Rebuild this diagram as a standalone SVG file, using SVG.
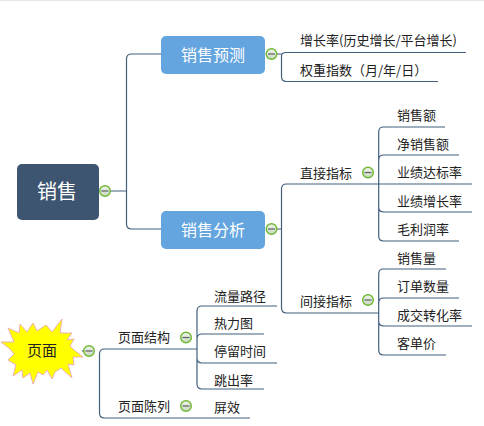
<svg xmlns="http://www.w3.org/2000/svg" width="484" height="426" viewBox="0 0 484 426">
<style>
text{font-family:"Noto Sans CJK SC","Liberation Sans",sans-serif;font-size:13px;fill:#222}
.c{text-anchor:middle}
.w{fill:#fff}
.l{fill:none;stroke:#42607f;stroke-width:1.2}
.t circle{fill:url(#tf);stroke:#6cb82e;stroke-width:1.4}
.t line{stroke:#56655a;stroke-width:1.2}
</style>
<defs>
<linearGradient id="tf" x1="0" y1="0" x2="0" y2="1"><stop offset="0" stop-color="#f2f5ee"/><stop offset="1" stop-color="#c9d6c0"/></linearGradient>
<g id="tg" class="t"><circle r="5.3"/><line x1="-3.5" x2="3.5" y1="0" y2="0"/></g>
</defs>
<rect width="484" height="426" fill="#fff"/>
<rect width="484" height="1" fill="#e6e6e6"/>
<g id="connectors" class="l">
<path d="M110 191H126.500M161 54H131.500Q126.500 54 126.500 59V224Q126.500 229 131.500 229H161"/>
<path d="M276 54H281.500M466 52.500H286Q281.500 52.500 281.500 56V76.500Q281.500 81.500 286.500 81.500H438"/>
<path d="M276 229H281.500M379 184H286.500Q281.500 184 281.500 189V308Q281.500 313 286.500 313H379"/>
<path d="M445 127H383.500Q378.700 127 378.700 132V236Q378.700 241 383.500 241H459M459 155H383.500Q378.700 155 378.700 160M378.700 184H472M378.700 207Q378.700 212 383.500 212H472"/>
<path d="M446 269H383.500Q378.700 269 378.700 274V350Q378.700 355 383.500 355H446M459 298H383.500Q378.700 298 378.700 303M378.700 321Q378.700 326 383.500 326H472"/>
<path d="M82 351H94"/>
<path d="M197 349H104.500Q99.500 349 99.500 354V413Q99.500 418 104.500 418H250"/>
<path d="M277 306H202Q197 306 197 311V384Q197 389 202 389H264M264 334H202Q197 334 197 339M197 358Q197 363 202 363H277"/>
</g>
<g id="n-root"><rect x="17" y="164" width="82" height="56" rx="5" fill="#3d5570"/><text x="57" y="199" class="c w" style="font-size:20px">销售</text><use href="#tg" x="105" y="191"/></g>
<g id="n-forecast"><rect x="161" y="36" width="104" height="38" rx="5" fill="#64a5df"/><text x="213" y="61" class="c w" style="font-size:16px">销售预测</text><use href="#tg" x="271.500" y="54"/></g>
<g id="n-analysis"><rect x="161" y="211" width="104" height="38" rx="5" fill="#64a5df"/><text x="213" y="236" class="c w" style="font-size:16px">销售分析</text><use href="#tg" x="271.500" y="229"/></g>
<g id="n-growth"><text x="300" y="45">增长率(历史增长/平台增长)</text></g>
<g id="n-weight"><text x="300" y="75">权重指数（月/年/日）</text></g>
<g id="n-direct"><text x="300" y="178">直接指标</text><use href="#tg" x="368" y="172.500"/></g>
<g id="n-indirect"><text x="300" y="306">间接指标</text><use href="#tg" x="368" y="300"/></g>
<g id="n-d1"><text x="397" y="120">销售额</text></g>
<g id="n-d2"><text x="397" y="149">净销售额</text></g>
<g id="n-d3"><text x="397" y="177">业绩达标率</text></g>
<g id="n-d4"><text x="397" y="206">业绩增长率</text></g>
<g id="n-d5"><text x="397" y="234">毛利润率</text></g>
<g id="n-i1"><text x="397" y="263">销售量</text></g>
<g id="n-i2"><text x="397" y="291">订单数量</text></g>
<g id="n-i3"><text x="397" y="320">成交转化率</text></g>
<g id="n-i4"><text x="397" y="348">客单价</text></g>
<g id="n-page"><polygon points="1,342 14,342 8,328 19,333 20,324 27,332 33,323 37,331 46,325 52,332 62,319 60,333 72,333 67,340 74,339 70,346 74,350 83,357 73,357 74,365 68,364 72,378 61,368 55,372 52,379 47,370 43,375 38,372 33,384 30,373 23,378 22,370 13,376 16,365 8,360 14,354 10,349" fill="#ffff00" stroke="#eeb0b0" stroke-width="1"/><text x="42" y="356" class="c" style="font-size:15px">页面</text><use href="#tg" x="89" y="351"/></g>
<g id="n-struct"><text x="118" y="342">页面结构</text><use href="#tg" x="186" y="337.500"/></g>
<g id="n-list"><text x="118" y="411">页面陈列</text><use href="#tg" x="186" y="406"/></g>
<g id="n-s1"><text x="214" y="301">流量路径</text></g>
<g id="n-s2"><text x="214" y="328">热力图</text></g>
<g id="n-s3"><text x="214" y="356">停留时间</text></g>
<g id="n-s4"><text x="214" y="385">跳出率</text></g>
<g id="n-l1"><text x="214" y="412">屏效</text></g>
</svg>
